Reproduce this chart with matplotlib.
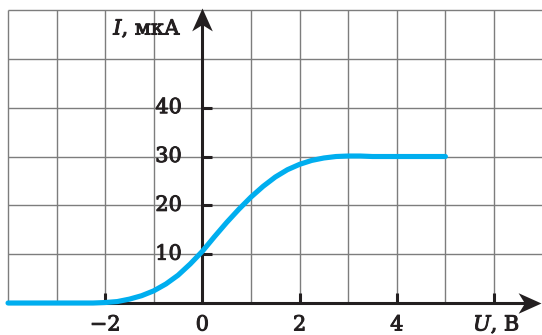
import numpy as np
import matplotlib
matplotlib.use('Agg')
import matplotlib.pyplot as plt
import matplotlib.patheffects as pe
from matplotlib.path import Path

plt.rcParams['font.family'] = ['DejaVu Serif']
plt.rcParams['mathtext.fontset'] = 'dejavuserif'

# values
U = [-4, -2.25, -2, -1.75, -1.5, -1.25, -1, -0.75, -0.5, -0.25, 0, 0.25, 0.5,
     0.75, 1, 1.25, 1.5, 1.75, 2, 2.25, 2.5, 2.75, 3, 3.25, 3.5, 4, 5]
I = [0, 0, 0.1, 0.3, 0.8, 1.5, 2.5, 3.9, 5.7, 8.0, 10.6, 13.6, 16.5,
     19.2, 21.7, 23.9, 25.8, 27.3, 28.4, 29.2, 29.7, 30.0, 30.1, 30.1, 30.0, 30.0, 30.0]

grid_x = [-4, -3, -2, -1, 0, 1, 2, 3, 4, 5, 6]
grid_y = [10, 20, 30, 40, 50, 60]
xticks = [-2, 2, 4, 6]
xlabels = ['\u22122', '0', '2', '4']
xlabel_pos = [-2, 0, 2, 4]
yticks = [10, 20, 30, 40]

x_lo, x_hi = -4.165, 6.988
y_lo, y_hi = -6.55, 62.05

ink = '#231f20'
grid_c = '#7d7d7d'
curve_c = '#00aeef'

fig = plt.figure(figsize=(5.42, 3.35), dpi=100)
ax = fig.add_axes([0, 0, 1, 1])
ax.set_xlim(x_lo, x_hi)
ax.set_ylim(y_lo, y_hi)
ax.axis('off')

# grid
ax.vlines(grid_x, 0, 60, color=grid_c, lw=1.0, zorder=1)
ax.hlines(grid_y, -4, x_hi + 1, color=grid_c, lw=1.0, zorder=1)

# axes
ax.plot([-4, 6.8], [0, 0], color=ink, lw=2.2, zorder=3, solid_capstyle='butt')
ax.plot([0, 0], [0, 59.5], color=ink, lw=2.2, zorder=3, solid_capstyle='butt')

up = Path([(0, 0), (-0.45, -1), (0, -0.72), (0.45, -1), (0, 0)],
          [Path.MOVETO, Path.LINETO, Path.LINETO, Path.LINETO, Path.CLOSEPOLY])
right = Path([(0, 0), (-1, 0.45), (-0.72, 0), (-1, -0.45), (0, 0)],
             [Path.MOVETO, Path.LINETO, Path.LINETO, Path.LINETO, Path.CLOSEPOLY])
ax.plot([0], [60.4], marker=up, ms=33, color=ink, mew=0, zorder=4)
ax.plot([6.97], [0], marker=right, ms=33, color=ink, mew=0, zorder=4)

# ticks
ax.vlines(xticks, 0, 2.0, color=ink, lw=2.2, zorder=3)
ax.hlines(yticks, 0, 0.19, color=ink, lw=2.2, zorder=3)

# curve
ax.plot(U, I, color=curve_c, lw=3.7, solid_capstyle='round',
        solid_joinstyle='round', zorder=5)

# labels (slightly heavier than book weight)
thick = [pe.withStroke(linewidth=0.7, foreground=ink)]
kw = dict(fontsize=15, color=ink, path_effects=thick, zorder=4)
for v, s in zip(xlabel_pos, xlabels):
    ax.text(v, -4.5, s, ha='center', va='center', **kw)
for v in yticks:
    ax.text(-0.42, v, str(v), ha='right', va='center', **kw)
ax.text(-0.42, 56.1, r'$I$, мкА', ha='right', va='center', **kw)
ax.text(5.57, -4.5, r'$U$, В', ha='left', va='center', **kw)

fig.savefig('out.png', dpi=100)
